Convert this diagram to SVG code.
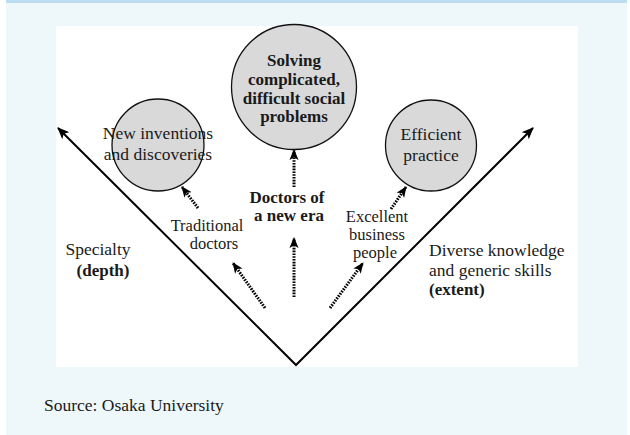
<svg xmlns="http://www.w3.org/2000/svg" width="630" height="435" viewBox="0 0 630 435">
  <style>
    text { font-family: 'Liberation Serif', 'DejaVu Serif', serif; font-size: 17.5px; fill: #1a1a1a; }
    .c { text-anchor: middle; }
    .b { font-weight: bold; font-size: 17px; }
    .s { font-size: 16.5px; }
    .node circle { fill: #d9d9d9; stroke: #111; stroke-width: 1.3; }
    .axis { fill: none; stroke: #000; stroke-width: 2; }
    .dot { fill: none; stroke: #000; stroke-width: 3; stroke-dasharray: 1.6 1.2; }
  </style>
  <defs>
    <marker id="head" viewBox="0 0 12 10" refX="11" refY="5" markerWidth="12" markerHeight="10" markerUnits="userSpaceOnUse" orient="auto-start-reverse">
      <path d="M0,0 L12,5 L0,10 L3,5 z" fill="#000"/>
    </marker>
    <marker id="dhead" viewBox="0 0 12 10" refX="11" refY="5" markerWidth="11" markerHeight="10" markerUnits="userSpaceOnUse" orient="auto">
      <path d="M0,0 L12,5 L0,10 L3,5 z" fill="#000"/>
    </marker>
  </defs>

  <!-- backdrop -->
  <rect x="6" y="0" width="621" height="435" fill="#eef7fa"/>
  <rect x="6" y="0" width="621" height="3" fill="#bcdcf0"/>
  <rect x="56" y="26" width="522" height="341" fill="#ffffff"/>

  <!-- connectors -->
  <g id="connectors">
    <polyline class="axis" points="58,128 296,365 533,128" marker-start="url(#head)" marker-end="url(#head)"/>
    <line class="dot" x1="294" y1="297" x2="294" y2="238" marker-end="url(#dhead)"/>
    <line class="dot" x1="294" y1="187" x2="294" y2="150" marker-end="url(#dhead)"/>
    <line class="dot" x1="265" y1="308" x2="233" y2="263" marker-end="url(#dhead)"/>
    <line class="dot" x1="198" y1="208" x2="182" y2="187" marker-end="url(#dhead)"/>
    <line class="dot" x1="330" y1="308" x2="363" y2="263" marker-end="url(#dhead)"/>
    <line class="dot" x1="391" y1="209" x2="406" y2="187" marker-end="url(#dhead)"/>
  </g>

  <!-- goal circles -->
  <g id="inventions" class="node">
    <circle cx="158" cy="145" r="46"/>
    <text class="c" x="158" y="139">New inventions</text>
    <text class="c" x="158" y="160">and discoveries</text>
  </g>
  <g id="social-problems" class="node">
    <circle cx="294" cy="87" r="62.5"/>
    <text class="c b" x="294" y="66">Solving</text>
    <text class="c b" x="294" y="85">complicated,</text>
    <text class="c b" x="294" y="104">difficult social</text>
    <text class="c b" x="294" y="122">problems</text>
  </g>
  <g id="efficient" class="node">
    <circle cx="431" cy="145.5" r="45.5"/>
    <text class="c" x="431" y="140">Efficient</text>
    <text class="c" x="431" y="161">practice</text>
  </g>

  <!-- doctor types -->
  <g id="new-era">
    <text class="c b" x="287" y="203">Doctors of</text>
    <text class="c b" x="289" y="221">a new era</text>
  </g>
  <g id="traditional">
    <text class="c s" x="207" y="231">Traditional</text>
    <text class="c s" x="214" y="249">doctors</text>
  </g>
  <g id="business">
    <text class="c s" x="377" y="222">Excellent</text>
    <text class="c s" x="377" y="240">business</text>
    <text class="c s" x="375" y="258">people</text>
  </g>

  <!-- axis labels -->
  <g id="specialty">
    <text class="c" x="98" y="255">Specialty</text>
    <text class="c b" x="103" y="276">(depth)</text>
  </g>
  <g id="extent">
    <text x="429" y="256">Diverse knowledge</text>
    <text x="429" y="276">and generic skills</text>
    <text class="b" x="429" y="295">(extent)</text>
  </g>

  <text x="44" y="411">Source: Osaka University</text>
</svg>
